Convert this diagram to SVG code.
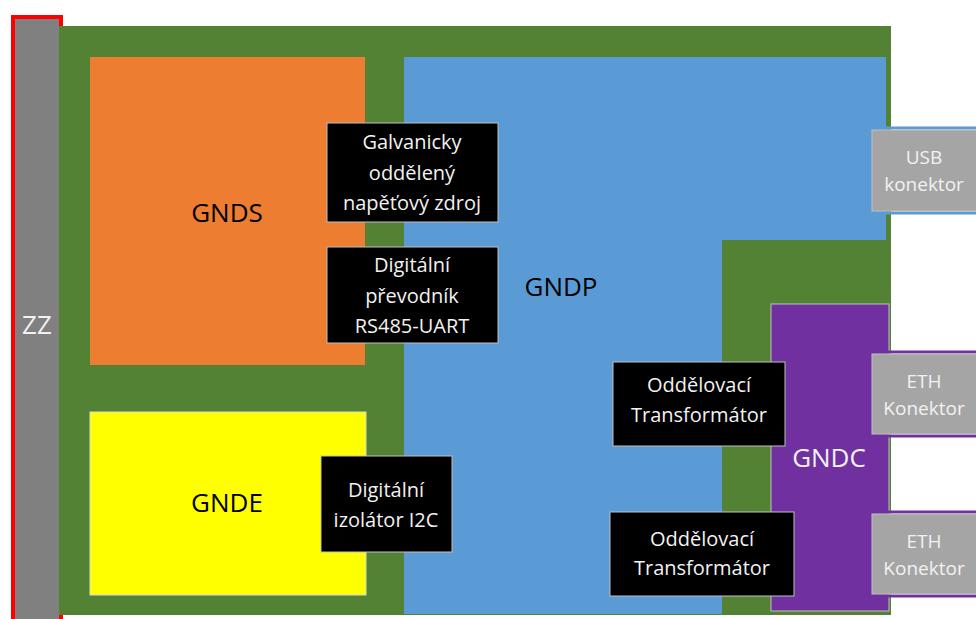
<svg xmlns="http://www.w3.org/2000/svg" width="976" height="619" viewBox="0 0 976 619">
<style>
text{font-family:"Open Sans","Noto Sans","Liberation Sans",sans-serif;text-anchor:middle;}
.box{fill:#000;stroke:#bfbfbf;stroke-width:1;}
.bt{fill:#f2f2f2;font-size:20px;}
.con{fill:#a5a5a5;stroke:#bfbfbf;stroke-width:1;}
.ct{fill:#f2f2f2;font-size:19px;}
.big{font-size:26px;}
</style>
<rect width="976" height="619" fill="#ffffff"/>
<g id="zz"><rect x="13" y="17" width="48" height="606" fill="#808080" stroke="#ff0000" stroke-width="4"/><text class="big" x="37" y="334" fill="#f2f2f2">ZZ</text></g>
<g id="board"><rect x="59" y="26" width="832" height="589" fill="#548235"/></g>
<g id="gnds"><rect x="90" y="57" width="275" height="308" fill="#ed7d31"/><text class="big" x="227" y="222" fill="#000">GNDS</text></g>
<g id="gnde"><rect x="90" y="412" width="276" height="183" fill="#ffff00" stroke="#d9d9d9" stroke-width="1"/><text class="big" x="227" y="512" fill="#000">GNDE</text></g>
<g id="gndp"><path d="M404 57H886V240H722V614H404Z" fill="#5b9bd5"/><text class="big" x="561" y="296" fill="#000">GNDP</text></g>
<g id="gndc"><rect x="771" y="304" width="118" height="307" fill="#7030a0" stroke="#bfbfbf" stroke-width="1"/><text class="big" x="829" y="467" fill="#f2f2f2">GNDC</text></g>
<g id="usb"><rect x="880" y="128" width="100" height="85" fill="none" stroke="#5b9bd5" stroke-width="3"/><rect class="con" x="872" y="130" width="106" height="81"/><text class="ct" x="924" y="164">USB</text><text class="ct" x="924" y="191">konektor</text></g>
<g id="eth1"><rect x="880" y="352" width="100" height="84" fill="none" stroke="#7030a0" stroke-width="3"/><rect class="con" x="872" y="354" width="106" height="80"/><text class="ct" x="924" y="388">ETH</text><text class="ct" x="924" y="415">Konektor</text></g>
<g id="eth2"><rect x="880" y="512" width="100" height="84" fill="none" stroke="#7030a0" stroke-width="3"/><rect class="con" x="872" y="514" width="106" height="80"/><text class="ct" x="924" y="548">ETH</text><text class="ct" x="924" y="575">Konektor</text></g>
<g id="galv"><rect class="box" x="327" y="123" width="171" height="99"/><text class="bt" x="412" y="149">Galvanicky</text><text class="bt" x="412" y="180">oddělený</text><text class="bt" x="412" y="210">napěťový zdroj</text></g>
<g id="prev"><rect class="box" x="327" y="247" width="171" height="96"/><text class="bt" x="412" y="272">Digitální</text><text class="bt" x="412" y="303">převodník</text><text class="bt" x="412" y="333">RS485-UART</text></g>
<g id="izol"><rect class="box" x="321" y="456" width="131" height="96"/><text class="bt" x="386" y="497">Digitální</text><text class="bt" x="386" y="527">izolátor I2C</text></g>
<g id="tr1"><rect class="box" x="613" y="362" width="172" height="84"/><text class="bt" x="699" y="392">Oddělovací</text><text class="bt" x="699" y="422">Transformátor</text></g>
<g id="tr2"><rect class="box" x="610" y="512" width="184" height="84"/><text class="bt" x="702" y="546">Oddělovací</text><text class="bt" x="702" y="575">Transformátor</text></g>
<g id="connectors"></g>
</svg>
